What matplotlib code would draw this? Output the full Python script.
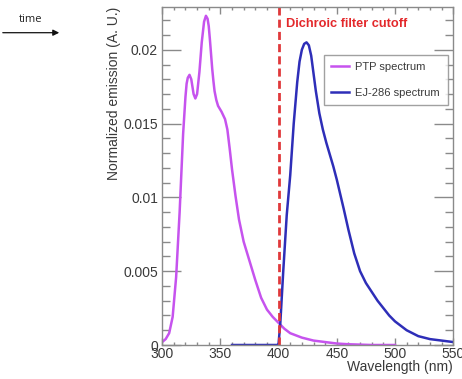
import matplotlib
matplotlib.use("Agg")
import matplotlib.pyplot as plt
from matplotlib.ticker import MultipleLocator, FixedLocator, FixedFormatter

plt.rcParams['font.family'] = ['Liberation Sans', 'DejaVu Sans']

# PTP emission spectrum (violet)
ptp_wl = [300, 303, 306, 309, 312, 315, 318, 320, 321, 322, 323.5, 325, 326, 327,
          328.5, 330, 332, 334, 336, 337.6, 339, 340, 341, 342, 343, 344, 345,
          346.5, 348, 351, 354, 356, 358, 360, 363, 366, 370, 375, 380, 385, 390,
          395, 400, 405, 410, 420, 430, 440, 450, 460, 480, 500]
ptp_val = [0.0002, 0.0004, 0.0008, 0.0019, 0.0046, 0.0090, 0.0143, 0.0168,
           0.0177, 0.0181, 0.0183, 0.0180, 0.0175, 0.0170, 0.0167, 0.0170,
           0.0185, 0.0205, 0.0219, 0.0223, 0.0221, 0.0216, 0.0207, 0.0197,
           0.0187, 0.0179, 0.0172, 0.0166, 0.0162, 0.0158, 0.0153, 0.0146,
           0.0133, 0.0119, 0.0101, 0.0085, 0.0070, 0.0057, 0.0044, 0.0032,
           0.0024, 0.0019, 0.0015, 0.0011, 0.0008, 0.0005, 0.0003, 0.0002,
           0.0001, 0.00005, 0.0, 0.0]

# EJ-286 emission spectrum (blue)
ej_wl = [360, 380, 399, 400, 401.5, 404, 407, 410, 413, 416, 418, 420, 422, 424,
         426, 428, 430, 432, 435, 438, 441, 444, 447, 450, 453, 456, 460, 465,
         470, 475, 480, 485, 490, 495, 500, 510, 520, 530, 540, 550]
ej_val = [0.0, 0.0, 0.0, 0.0001, 0.0015, 0.0050, 0.0088, 0.0115, 0.0150, 0.0178,
          0.0192, 0.0200, 0.0204, 0.0205, 0.0203, 0.0196, 0.0184, 0.0172, 0.0157,
          0.0146, 0.0137, 0.0129, 0.0121, 0.0112, 0.0102, 0.0092, 0.0078,
          0.0062, 0.0050, 0.0042, 0.0036, 0.0030, 0.0025, 0.0020, 0.0016,
          0.0010, 0.0006, 0.0004, 0.0003, 0.0002]

cutoff_wl = 400
xticks = [300, 350, 400, 450, 500, 550]
xticklabels = ['300', '350', '400', '450', '500', '550']
yticks = [0, 0.005, 0.01, 0.015, 0.02]
yticklabels = ['0', '0.005', '0.01', '0.015', '0.02']

fig = plt.figure(figsize=(4.62, 3.79), dpi=100)
ax = fig.add_axes([0.351, 0.0897, 0.630, 0.892])

ax.plot(ptp_wl, ptp_val, color='#C653EE', lw=1.8, label='PTP spectrum')
ax.plot(ej_wl, ej_val, color='#2E2EB8', lw=1.8, label='EJ-286 spectrum')
ax.axvline(cutoff_wl, color='#E0393B', lw=2.0, dashes=(2.9, 1.5))

ax.set_xlim(300, 550)
ax.set_ylim(0, 0.0229)

ax.xaxis.set_major_locator(FixedLocator(xticks))
ax.xaxis.set_major_formatter(FixedFormatter(xticklabels))
ax.xaxis.set_minor_locator(MultipleLocator(10))
ax.yaxis.set_major_locator(FixedLocator(yticks))
ax.yaxis.set_major_formatter(FixedFormatter(yticklabels))
ax.yaxis.set_minor_locator(MultipleLocator(0.001))

for s in ax.spines.values():
    s.set_color('#8a8a8a')
    s.set_linewidth(1.0)

ax.tick_params(axis='both', which='both', direction='in', colors='#8a8a8a',
               labelcolor='#3a3a3a', labelsize=10, top=True, right=True)
ax.tick_params(axis='y', which='major', length=14, width=1.0, pad=3)
ax.tick_params(axis='y', which='minor', length=6, width=1.0)
ax.tick_params(axis='x', which='major', length=5, width=1.0, pad=1.5)
ax.tick_params(axis='x', which='minor', length=2.5, width=1.0)

ax.text(1.0, -0.065, 'Wavelength (nm)', transform=ax.transAxes, ha='right',
        va='center', fontsize=10, color='#3a3a3a')
ax.text(-0.166, 1.0, 'Normalized emission (A. U.)', transform=ax.transAxes,
        rotation=90, ha='center', va='top', fontsize=10, color='#3a3a3a')

ax.text(406, 0.02176, 'Dichroic filter cutoff', color='#E3282B', fontsize=9.2,
        fontweight='bold', ha='left', va='center')

leg = ax.legend(loc='upper left', bbox_to_anchor=(0.557, 0.701, 0.426, 0.157),
                mode='expand', borderaxespad=0, fontsize=8, frameon=True,
                fancybox=False, edgecolor='#8a8a8a', handlelength=1.6,
                handletextpad=0.6, labelspacing=1.5, borderpad=0.6)
leg.get_frame().set_linewidth(1.0)
for t in leg.get_texts():
    t.set_color('#3a3a3a')

fig.text(31 / 462, 1 - 19 / 379, 'time', fontsize=8, ha='center', va='center',
         family=['Open Sans', 'DejaVu Sans'], color='#222222')
fig.add_artist(matplotlib.patches.FancyArrowPatch(
    (0.0, 1 - 32.7 / 379), (62 / 462, 1 - 32.7 / 379),
    transform=fig.transFigure, arrowstyle='-|>', mutation_scale=9,
    lw=0.9, color='#111111'))

fig.savefig('out.png', dpi=100)
